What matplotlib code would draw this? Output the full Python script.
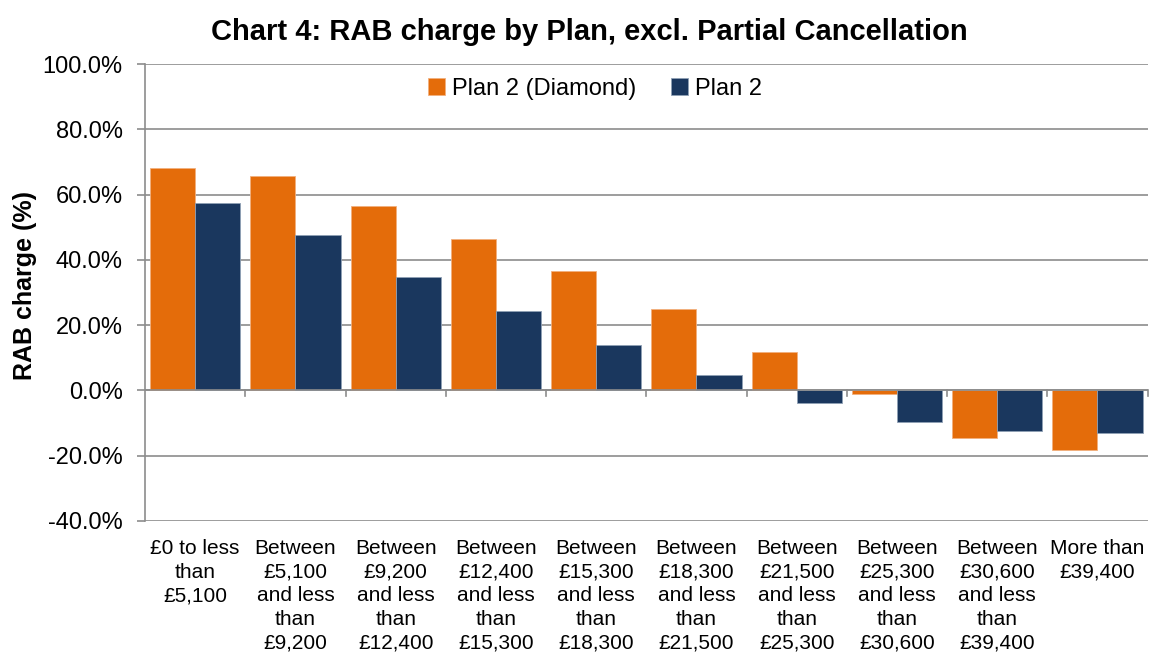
import numpy as np
import matplotlib
matplotlib.use("Agg")
import matplotlib.pyplot as plt
from matplotlib.ticker import FuncFormatter, MultipleLocator

plt.rcParams['font.family'] = ['Liberation Sans', 'DejaVu Sans']

categorias = [
    "£0 to less\nthan\n£5,100",
    "Between\n£5,100\nand less\nthan\n£9,200",
    "Between\n£9,200\nand less\nthan\n£12,400",
    "Between\n£12,400\nand less\nthan\n£15,300",
    "Between\n£15,300\nand less\nthan\n£18,300",
    "Between\n£18,300\nand less\nthan\n£21,500",
    "Between\n£21,500\nand less\nthan\n£25,300",
    "Between\n£25,300\nand less\nthan\n£30,600",
    "Between\n£30,600\nand less\nthan\n£39,400",
    "More than\n£39,400",
]
plan2_diamond = [68.1, 65.7, 56.4, 46.4, 36.5, 24.9, 11.7, -1.2, -14.5, -18.2]
plan2 = [57.4, 47.5, 34.7, 24.3, 13.9, 4.7, -3.9, -9.7, -12.4, -13.0]

cor_laranja = '#E46C0A'
cor_azul = '#1A375E'
cor_grade = '#8C8C8C'

fig = plt.figure(figsize=(11.51, 6.54), dpi=100)
ax = fig.add_axes([0.126, 0.2034, 0.871, 0.6986])

x = np.arange(len(categorias))
w = 0.45
ax.bar(x - w / 2, plan2_diamond, w, color=cor_laranja, edgecolor='#F2B07E', linewidth=0.6,
       label='Plan 2 (Diamond)', zorder=3)
ax.bar(x + w / 2, plan2, w, color=cor_azul, edgecolor='#8FA0B5', linewidth=0.6,
       label='Plan 2', zorder=3)

ax.set_xlim(-0.5, len(categorias) - 0.5)
ax.set_ylim(-40, 100)
ax.yaxis.set_major_locator(MultipleLocator(20))
ax.yaxis.set_major_formatter(FuncFormatter(lambda v, p: f"{v:.1f}%"))
ax.grid(axis='y', color=cor_grade, linewidth=1.2, zorder=0)

for s in ['top', 'right', 'bottom']:
    ax.spines[s].set_visible(False)
ax.spines['left'].set_color(cor_grade)
ax.spines['left'].set_linewidth(1.2)

# linha do zero com marcas entre categorias
ax.axhline(0, color=cor_grade, linewidth=1.2, zorder=4)
for b in np.arange(0.5, len(categorias) - 0.5 + 1e-9, 1.0):
    ax.plot([b, b], [0, -1.6], color=cor_grade, linewidth=1.2, zorder=4, clip_on=False)

ax.tick_params(axis='y', length=6, color=cor_grade, width=1.2, labelsize=17, pad=10)
ax.set_xticks(x)
ax.set_xticklabels(categorias, fontsize=15, linespacing=1.3)
ax.tick_params(axis='x', length=0, pad=13)

ax.set_ylabel('RAB charge (%)', fontsize=18, fontweight='bold')
ax.yaxis.set_label_coords(-0.108, 0.516)

fig.text(0.512, 0.951, 'Chart 4: RAB charge by Plan, excl. Partial Cancellation',
         fontsize=21, fontweight='bold', ha='center', va='center')

ax.legend(loc='center', bbox_to_anchor=(0.517, 0.864), bbox_transform=fig.transFigure,
          ncol=2, frameon=False, fontsize=17, handlelength=0.7, handleheight=0.7,
          handletextpad=0.3, columnspacing=1.5)

fig.savefig('out.png', dpi=100)
